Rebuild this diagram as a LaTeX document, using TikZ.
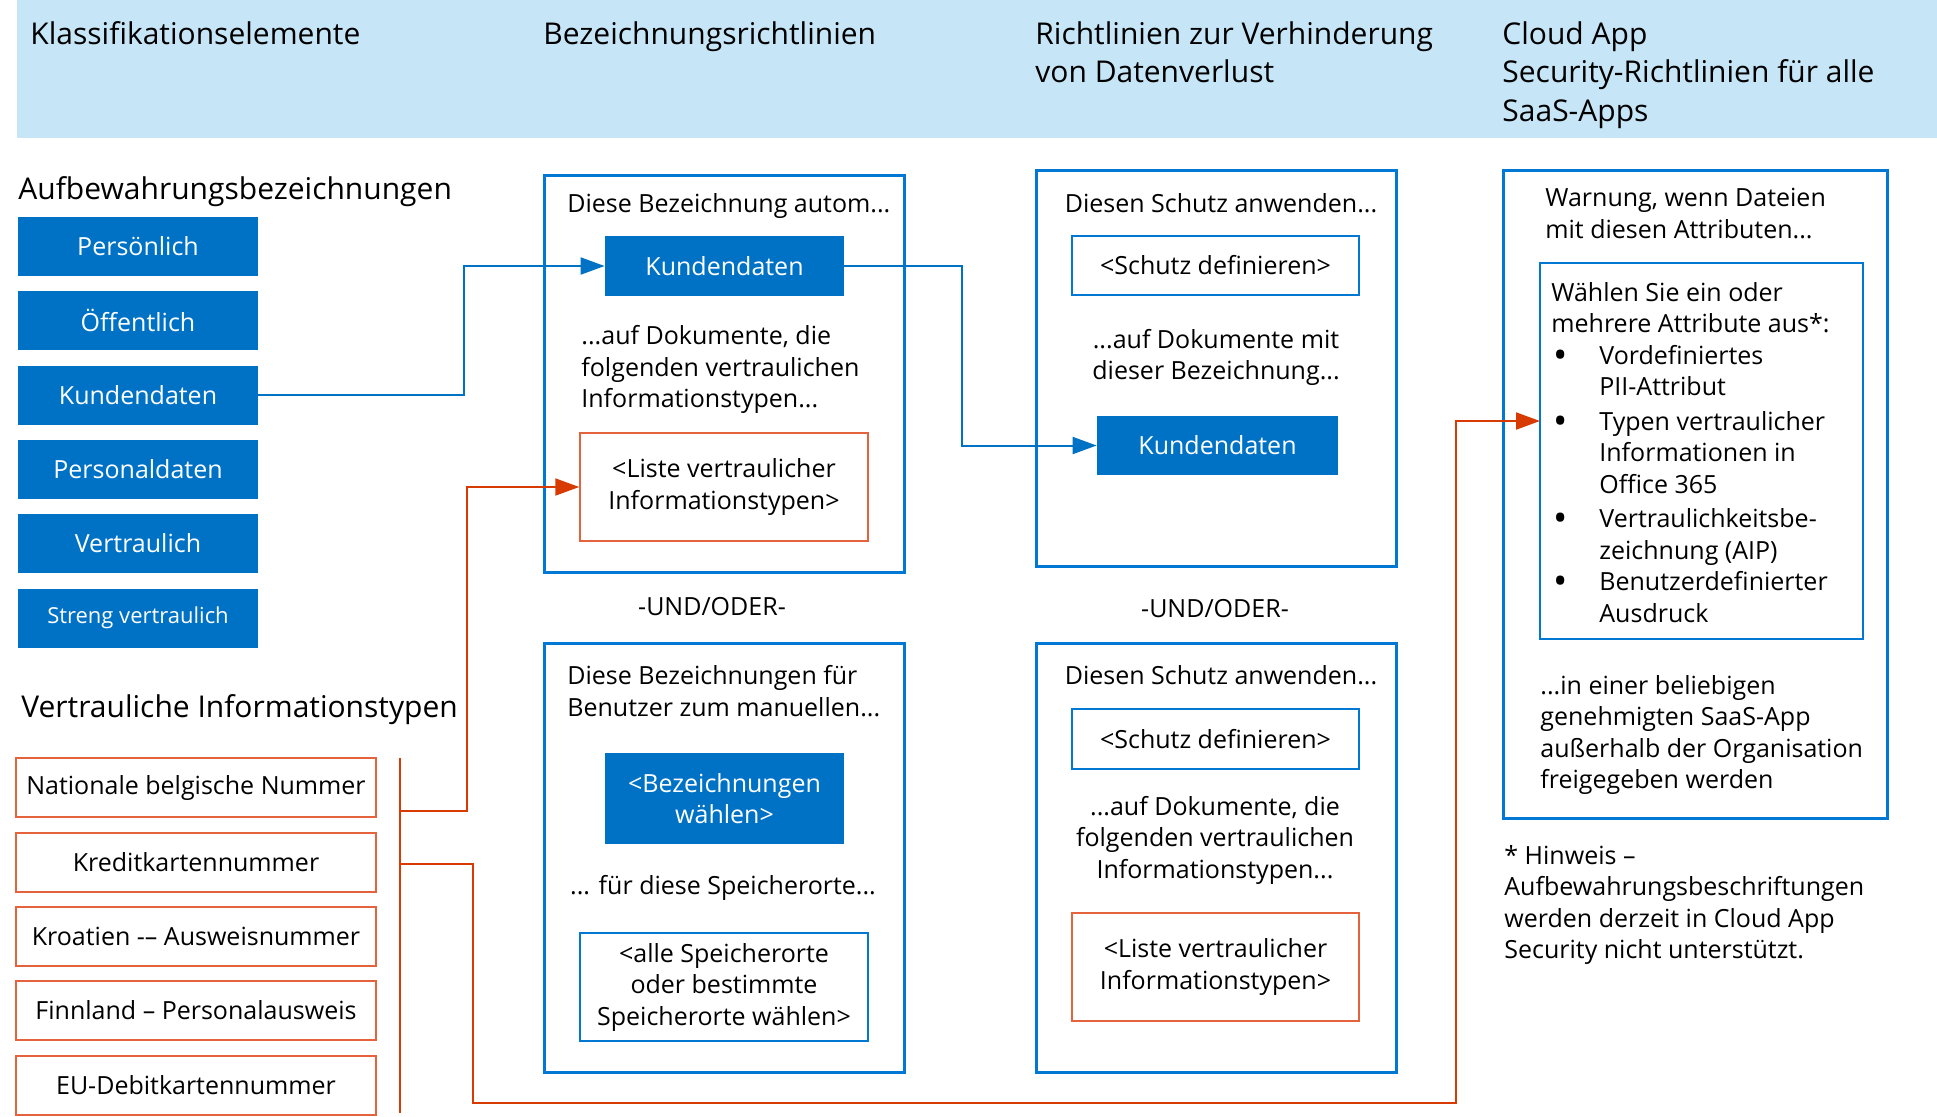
\documentclass[tikz,border=0pt]{standalone}
\usepackage{fontspec}
\setmainfont{Open Sans}
\usetikzlibrary{arrows.meta,positioning}

\definecolor{msblue}{RGB}{0,114,198}
\definecolor{boxblue}{RGB}{0,120,212}
\definecolor{msorange}{RGB}{216,59,1}
\definecolor{boxorange}{RGB}{228,98,60}
\definecolor{headblue}{RGB}{198,229,246}

\newcommand{\txtsize}{\fontsize{12.5}{15.75}\selectfont}
\newcommand{\smallsize}{\fontsize{11}{14}\selectfont}
\newcommand{\headsize}{\fontsize{15}{19.25}\selectfont}
\newcommand{\attrbullet}{\makebox[24pt][l]{\hspace{1pt}\raisebox{-2pt}{\fontsize{19}{15.75}\selectfont\textbullet}}}

\begin{document}
\begin{tikzpicture}[x=0.5pt,y=-0.5pt,
	labelbox/.style={fill=msblue,text=white,font=\txtsize,minimum width=120pt,minimum height=29.5pt,inner sep=0pt},
	typebox/.style={draw=boxorange,line width=1pt,font=\txtsize,minimum width=180pt,minimum height=29.5pt,inner sep=0pt},
	panel/.style={draw=boxblue,line width=1.5pt,inner sep=0pt},
	thinbox/.style={draw=boxblue,line width=0.75pt,font=\txtsize,align=center,inner sep=0pt},
	listbox/.style={draw=boxorange,line width=0.75pt,font=\txtsize,align=center,inner sep=0pt},
	bodytext/.style={font=\txtsize,align=left,inner sep=0pt},
	headtext/.style={font=\headsize,align=left,inner sep=0pt},
	bluearrow/.style={draw=msblue,line width=1pt,-{Triangle[length=12pt,width=8.5pt]}},
	orangeline/.style={draw=msorange,line width=1pt},
	orangearrow/.style={orangeline,-{Triangle[length=12pt,width=8.5pt]}}]
\useasboundingbox (0,0) rectangle (1937,1116);

	\begin{scope} % Header
		\fill[headblue] (17,0) rectangle (1937,138);
		\node[headtext,anchor=north west] (hklass) at (30,21) {Klassifikationselemente};
		\node[headtext,anchor=north west] (hbez) at (543,21) {Bezeichnungsrichtlinien};
		\node[headtext,anchor=north west] (hdlp) at (1035,21) {Richtlinien zur Verhinderung\\von Datenverlust};
		\node[headtext,anchor=north west] (hcas) at (1502,21) {Cloud App\\Security-Richtlinien f\"ur alle\\SaaS-Apps};
	\end{scope}

	\begin{scope} % Retention labels
		\node[headtext,right] (tauf) at (18,192) {Aufbewahrungsbezeichnungen};
		\node[labelbox] (lpers) at (138,246.5) {Pers\"onlich};
		\node[labelbox] (loeff) at (138,320.5) {\"Offentlich};
		\node[labelbox] (lkund) at (138,395) {Kundendaten};
		\node[labelbox] (lpdat) at (138,469.5) {Personaldaten};
		\node[labelbox] (lvert) at (138,543.5) {Vertraulich};
		\node[labelbox,font=\smallsize] (lstreng) at (138,618) {Streng vertraulich};
	\end{scope}

	\begin{scope} % Sensitive info types
		\node[headtext,right] (tvit) at (21,710) {Vertrauliche Informationstypen};
		\node[typebox] (tbel) at (196,787.5) {Nationale belgische Nummer};
		\node[typebox] (tkred) at (196,862) {Kreditkartennummer};
		\node[typebox] (tkro) at (196,936) {Kroatien -– Ausweisnummer};
		\node[typebox] (tfin) at (196,1010) {Finnland – Personalausweis};
		\node[typebox] (teu) at (196,1085) {EU-Debitkartennummer};
	\end{scope}

	\begin{scope} % Label policies
		\node[panel,minimum width=180pt,minimum height=198.5pt] (bauto) at (724,373.5) {};
		\node[bodytext,anchor=north west] (bautotxt) at (567,193) {Diese Bezeichnung autom...};
		\node[labelbox,minimum width=119.5pt,minimum height=30pt] (bkund) at (724.5,266) {Kundendaten};
		\node[bodytext,anchor=north west] (bdoktxt) at (581,325) {...auf Dokumente, die\\folgenden vertraulichen\\Informationstypen...};
		\node[listbox,minimum width=144pt,minimum height=54pt] (bliste) at (724,487) {<Liste vertraulicher\\Informationstypen>};
		\node[font=\txtsize] (bund) at (712,607) {-UND/ODER-};
		\node[panel,minimum width=180pt,minimum height=214.5pt] (bman) at (724,857.5) {};
		\node[bodytext,anchor=north west] (bmantxt) at (567,665) {Diese Bezeichnungen f\"ur\\Benutzer zum manuellen...};
		\node[labelbox,align=center,minimum width=119.5pt,minimum height=45.5pt] (bwahl) at (724.5,798.5) {<Bezeichnungen\\w\"ahlen>};
		\node[font=\txtsize] (bortetxt) at (723,888) {... f\"ur diese Speicherorte...};
		\node[thinbox,minimum width=144pt,minimum height=54pt] (borte) at (724,987) {<alle Speicherorte\\oder bestimmte\\Speicherorte w\"ahlen>};
	\end{scope}

	\begin{scope} % DLP policies
		\node[panel,minimum width=180pt,minimum height=198pt] (dlab) at (1216,368) {};
		\node[font=\txtsize] (dlabtxt) at (1221,203) {Diesen Schutz anwenden...};
		\node[thinbox,minimum width=143.5pt,minimum height=29.5pt] (dschutz) at (1215.5,265.5) {<Schutz definieren>};
		\node[bodytext,align=center] (dmittxt) at (1216,357.5) {...auf Dokumente mit\\dieser Bezeichnung...};
		\node[labelbox,minimum width=120.5pt] (dkund) at (1217.5,445.5) {Kundendaten};
		\node[font=\txtsize] (dund) at (1215,609) {-UND/ODER-};
		\node[panel,minimum width=180pt,minimum height=214.5pt] (dtyp) at (1216,857.5) {};
		\node[font=\txtsize] (dtyptxt) at (1221,675) {Diesen Schutz anwenden...};
		\node[thinbox,minimum width=143.5pt,minimum height=30pt] (dschutzb) at (1215.5,739) {<Schutz definieren>};
		\node[bodytext,align=center] (ddoktxt) at (1215,840) {...auf Dokumente, die\\folgenden vertraulichen\\Informationstypen...};
		\node[listbox,minimum width=143.5pt,minimum height=54pt] (dliste) at (1215.5,967) {<Liste vertraulicher\\Informationstypen>};
	\end{scope}

	\begin{scope} % Cloud App Security
		\node[panel,minimum width=192pt,minimum height=324pt] (cpanel) at (1695,494) {};
		\node[bodytext,anchor=north west] (cwarn) at (1545,188) {Warnung, wenn Dateien\\mit diesen Attributen...};
		\node[thinbox,minimum width=161.5pt,minimum height=188pt] (cattr) at (1701.5,451) {};
		\node[bodytext,anchor=north west] (cattrtxt) at (1551,282) {W\"ahlen Sie ein oder\\mehrere Attribute aus*:\\
			\attrbullet Vordefiniertes\\\hspace*{24pt}PII-Attribut\\[1.5pt]
			\attrbullet Typen vertraulicher\\\hspace*{24pt}Informationen in\\\hspace*{24pt}Office 365\\[1.5pt]
			\attrbullet Vertraulichkeitsbe-\\\hspace*{24pt}zeichnung (AIP)\\
			\attrbullet Benutzerdefinierter\\\hspace*{24pt}Ausdruck};
		\node[bodytext,anchor=north west] (capptxt) at (1540,675) {...in einer beliebigen\\genehmigten SaaS-App\\au\ss erhalb der Organisation\\freigegeben werden};
		\node[bodytext,anchor=north west] (cnote) at (1504,845) {* Hinweis –\\Aufbewahrungsbeschriftungen\\werden derzeit in Cloud App\\Security nicht unterst\"utzt.};
	\end{scope}

% blue connectors
\coordinate (jog1) at (464,266);
\draw[bluearrow] (lkund.east) -| (jog1) -- (bkund.west);
\coordinate (jog2) at (962,266);
\draw[bluearrow] (bkund.east) -- (jog2) |- (dkund.west);

% orange connectors
\coordinate (brtop) at (400,758);
\coordinate (brbot) at (400,1113);
\draw[orangeline] (brtop) -- (brbot);
\coordinate (br1) at (400,811);
\coordinate (jog3) at (467,811);
\draw[orangearrow] (br1) -- (jog3) |- (bliste.west);
\coordinate (br2) at (400,864);
\coordinate (jog4) at (473,1103);
\coordinate (jog5) at (1456,1103);
\coordinate (ctip) at (1540,421);
\draw[orangearrow] (br2) -| (jog4) -- (jog5) |- (ctip);
\end{tikzpicture}
\end{document}
